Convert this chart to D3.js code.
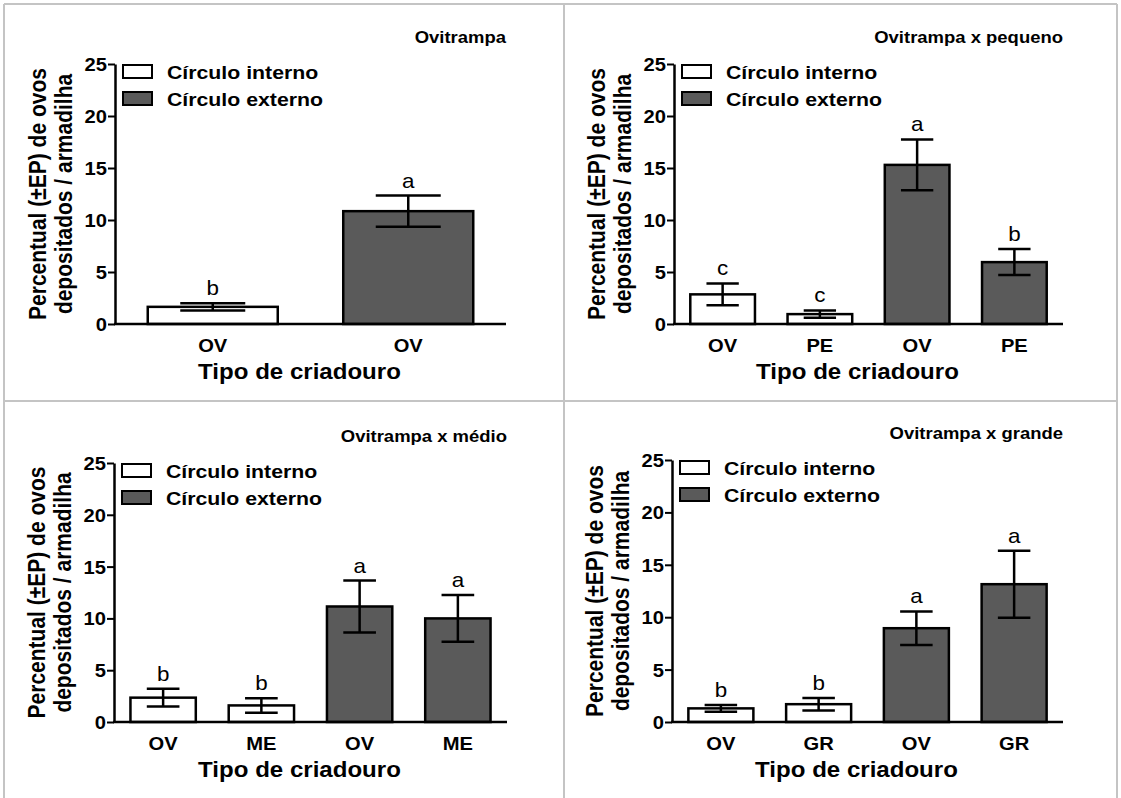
<!DOCTYPE html>
<html>
<head>
<meta charset="utf-8">
<script src="https://cdn.jsdelivr.net/npm/d3@7"></script>
<style>
  html, body { margin: 0; padding: 0; background: #fff; }
  svg { display: block; font-family: "Liberation Sans", Arial, sans-serif; }
</style>
</head>
<body>
<svg id="chart" width="1121" height="798"></svg>
<script>
// ---- data ----
const panelTitles = ["Ovitrampa", "Ovitrampa x pequeno", "Ovitrampa x médio", "Ovitrampa x grande"];
const categoryLabels = [
  ["OV", "OV"],
  ["OV", "PE", "OV", "PE"],
  ["OV", "ME", "OV", "ME"],
  ["OV", "GR", "OV", "GR"]
];
const seriesNames = ["Círculo interno", "Círculo externo"];
// which series (0 = interno, 1 = externo) each bar belongs to
const seriesOfBar = [
  [0, 1],
  [0, 0, 1, 1],
  [0, 0, 1, 1],
  [0, 0, 1, 1]
];
const meanValues = [
  [1.65, 10.85],
  [2.85, 0.95, 15.3, 5.95],
  [2.35, 1.6, 11.15, 10.0],
  [1.3, 1.7, 8.95, 13.15]
];
const seValues = [
  [0.35, 1.5],
  [1.05, 0.35, 2.45, 1.25],
  [0.85, 0.7, 2.5, 2.25],
  [0.33, 0.6, 1.6, 3.2]
];
const significanceLetters = [
  ["b", "a"],
  ["c", "c", "a", "b"],
  ["b", "b", "a", "a"],
  ["b", "b", "a", "a"]
];
const yTicks = [0, 5, 10, 15, 20, 25];
const yDomain = [0, 25];
const yAxisTitle = ["Percentual (±EP) de ovos", "depositados / armadilha"];
const xAxisTitle = "Tipo de criadouro";

// ---- layout & style ----
const plotBoxes = [
  { l: 115, r: 506, t: 64, b: 324 },
  { l: 674, r: 1063, t: 64, b: 324 },
  { l: 114, r: 507, t: 463, b: 722 },
  { l: 672, r: 1063, t: 460, b: 722 }
];
const seriesFill = ["#ffffff", "#5a5a5a"];
const SX = 1.12;           // horizontal stretch applied to all lettering
const LINE_W = 2.5;

const svg = d3.select("#chart");

// panel frame
const frame = svg.append("g").attr("stroke", "#c4c4c4").attr("stroke-width", 2).attr("fill", "none");
[[4, 4, 1117, 4], [4, 401, 1117, 401], [4, 4, 4, 798], [564, 4, 564, 798], [1117, 4, 1117, 798]]
  .forEach(([x1, y1, x2, y2]) => frame.append("line").attr("x1", x1).attr("y1", y1).attr("x2", x2).attr("y2", y2));

function place(x, y, rot) {
  return `translate(${x},${y}) scale(${SX},1)` + (rot ? ` rotate(${rot})` : "");
}

panelTitles.forEach((title, p) => {
  const box = plotBoxes[p];
  const labels = categoryLabels[p];
  const means = meanValues[p];
  const ses = seValues[p];
  const idx = d3.range(labels.length);

  const x = d3.scaleBand().domain(idx).range([box.l, box.r]).paddingInner(0.335).paddingOuter(0.1675);
  const y = d3.scaleLinear().domain(yDomain).range([box.b, box.t]);

  const g = svg.append("g");

  // bars
  g.selectAll("rect.bar").data(idx).join("rect")
    .attr("class", "bar")
    .attr("x", i => x(i))
    .attr("y", i => y(means[i]))
    .attr("width", x.bandwidth())
    .attr("height", i => y(0) - y(means[i]))
    .attr("fill", i => seriesFill[seriesOfBar[p][i]])
    .attr("stroke", "#000")
    .attr("stroke-width", LINE_W);

  // error bars (mean ± EP)
  const capHalf = x.bandwidth() * 0.25;
  const eb = g.selectAll("g.err").data(idx).join("g").attr("class", "err")
    .attr("stroke", "#000").attr("stroke-width", LINE_W);
  eb.append("line")
    .attr("x1", i => x(i) + x.bandwidth() / 2).attr("x2", i => x(i) + x.bandwidth() / 2)
    .attr("y1", i => y(means[i] - ses[i])).attr("y2", i => y(means[i] + ses[i]));
  eb.append("line")
    .attr("x1", i => x(i) + x.bandwidth() / 2 - capHalf).attr("x2", i => x(i) + x.bandwidth() / 2 + capHalf)
    .attr("y1", i => y(means[i] + ses[i])).attr("y2", i => y(means[i] + ses[i]));
  eb.append("line")
    .attr("x1", i => x(i) + x.bandwidth() / 2 - capHalf).attr("x2", i => x(i) + x.bandwidth() / 2 + capHalf)
    .attr("y1", i => y(means[i] - ses[i])).attr("y2", i => y(means[i] - ses[i]));

  // significance letters
  g.selectAll("text.sig").data(idx).join("text")
    .attr("class", "sig")
    .attr("text-anchor", "middle")
    .attr("font-size", 20)
    .attr("transform", i => place(x(i) + x.bandwidth() / 2, y(means[i] + ses[i]) - 8))
    .text(i => significanceLetters[p][i]);

  // y axis
  const yAxis = g.append("g")
    .attr("transform", `translate(${box.l},0)`)
    .call(d3.axisLeft(y).tickValues(yTicks).tickSize(7).tickSizeOuter(0).tickPadding(0));
  yAxis.select(".domain").attr("stroke", "#000").attr("stroke-width", LINE_W);
  yAxis.selectAll(".tick line").attr("stroke", "#000").attr("stroke-width", 2);
  yAxis.selectAll(".tick text")
    .attr("x", null).attr("dy", "0.36em")
    .attr("transform", place(-8, 0))
    .attr("font-size", 18).attr("font-weight", "bold").attr("fill", "#000")
    .attr("font-family", "Liberation Sans, Arial, sans-serif");

  // x axis
  const xAxis = g.append("g")
    .attr("transform", `translate(0,${box.b})`)
    .call(d3.axisBottom(x).tickSize(0).tickSizeOuter(0).tickFormat(i => labels[i]));
  xAxis.select(".domain").attr("stroke", "#000").attr("stroke-width", LINE_W)
    .attr("d", `M${box.l - 1},0H${box.r}`);
  xAxis.selectAll(".tick text")
    .attr("y", null).attr("dy", null)
    .attr("transform", place(0, 28))
    .attr("font-size", 18).attr("font-weight", "bold").attr("fill", "#000")
    .attr("font-family", "Liberation Sans, Arial, sans-serif");

  // axis titles
  g.append("text")
    .attr("text-anchor", "middle").attr("font-size", 21.5).attr("font-weight", "bold")
    .attr("transform", place((box.l + box.r) / 2 - 11, box.b + 55))
    .text(xAxisTitle);
  yAxisTitle.forEach((line, k) => {
    g.append("text")
      .attr("text-anchor", "middle").attr("font-size", 21).attr("font-weight", "bold")
      .attr("transform", place(box.l - 69 + k * 26, (box.t + box.b) / 2, -90))
      .text(line);
  });

  // panel title
  g.append("text")
    .attr("text-anchor", "end").attr("font-size", 16.5).attr("font-weight", "bold")
    .attr("transform", place(box.r, box.t - 21))
    .text(title);

  // legend
  const leg = g.append("g");
  seriesNames.forEach((name, s) => {
    leg.append("rect")
      .attr("x", box.l + 8).attr("y", box.t + 1 + s * 27)
      .attr("width", 29).attr("height", 13)
      .attr("fill", seriesFill[s]).attr("stroke", "#000").attr("stroke-width", 2);
    leg.append("text")
      .attr("font-size", 19).attr("font-weight", "bold")
      .attr("transform", place(box.l + 52, box.t + 15 + s * 27))
      .text(name);
  });
});
</script>
</body>
</html>
